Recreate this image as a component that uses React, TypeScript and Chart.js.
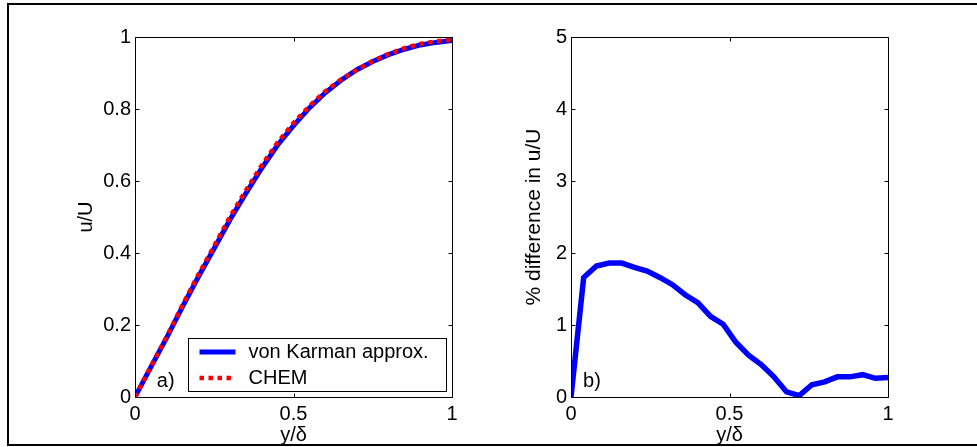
import { useEffect, useRef } from 'react';
import { Chart, registerables } from 'chart.js';

Chart.register(...registerables);

// ---- a) velocity profiles u/U against y/delta ----
const etaProfile = [0, 0.05, 0.1, 0.15, 0.2, 0.25, 0.3, 0.35, 0.4, 0.45, 0.5, 0.55, 0.6, 0.65, 0.7, 0.75, 0.8, 0.85, 0.9, 0.95, 1];
const vonKarman = [0, 0.083, 0.165, 0.251, 0.334, 0.413, 0.493, 0.566, 0.636, 0.7, 0.754, 0.803, 0.845, 0.88, 0.909, 0.932, 0.951, 0.966, 0.978, 0.985, 0.99];
const chem = [0, 0.0844, 0.168, 0.2556, 0.34, 0.42, 0.501, 0.574, 0.644, 0.707, 0.761, 0.808, 0.849, 0.882, 0.909, 0.933, 0.953, 0.969, 0.981, 0.988, 0.993];

// ---- b) percentage difference between the two profiles ----
const etaDiff = [0, 0.04, 0.08, 0.12, 0.16, 0.2, 0.24, 0.28, 0.32, 0.36, 0.4, 0.44, 0.48, 0.52, 0.56, 0.6, 0.64, 0.68, 0.72, 0.76, 0.8, 0.84, 0.88, 0.92, 0.96, 1];
const pctDiff = [0, 1.66, 1.82, 1.86, 1.86, 1.8, 1.75, 1.66, 1.56, 1.42, 1.31, 1.12, 1.01, 0.76, 0.58, 0.45, 0.28, 0.07, 0.02, 0.17, 0.21, 0.28, 0.28, 0.31, 0.26, 0.27];

const etaTicks = [0, 0.5, 1];
const uTicks = [0, 0.2, 0.4, 0.6, 0.8, 1];
const diffTicks = [0, 1, 2, 3, 4, 5];

const xTitle = 'y/\u03b4';
const legendLabels = ['von Karman approx.', 'CHEM'];

const FONT = 'Arial, "Liberation Sans", sans-serif';
const FONT_SIZE = 20;
const BLUE = '#0000ff';
const RED = '#ff0000';

const toPoints = (xs: number[], ys: number[]) => xs.map((x, i) => ({ x, y: ys[i] }));

// Box around the axes with short inward ticks on all four sides
const boxPlugin = {
  id: 'axesBox',
  afterDraw(chart: any) {
    const { ctx, chartArea: a, scales } = chart;
    const L = 4;
    ctx.save();
    ctx.strokeStyle = '#000';
    ctx.lineWidth = 1;
    const left = Math.round(a.left) + 0.5;
    const right = Math.round(a.right) + 0.5;
    const top = Math.round(a.top) + 0.5;
    const bottom = Math.round(a.bottom) + 0.5;
    ctx.beginPath();
    ctx.rect(left, top, right - left, bottom - top);
    for (const t of scales.x.ticks) {
      const px = Math.round(scales.x.getPixelForValue(t.value)) + 0.5;
      ctx.moveTo(px, bottom);
      ctx.lineTo(px, bottom - L);
      ctx.moveTo(px, top);
      ctx.lineTo(px, top + L);
    }
    for (const t of scales.y.ticks) {
      const py = Math.round(scales.y.getPixelForValue(t.value)) + 0.5;
      ctx.moveTo(left, py);
      ctx.lineTo(left + L, py);
      ctx.moveTo(right, py);
      ctx.lineTo(right - L, py);
    }
    ctx.stroke();
    ctx.restore();
  },
};

// Panel tag such as "a)" placed in data coordinates
const makeTagPlugin = (text: string, x: number, y: number) => ({
  id: 'panelTag',
  afterDraw(chart: any) {
    const { ctx, scales } = chart;
    ctx.save();
    ctx.fillStyle = '#000';
    ctx.font = `${FONT_SIZE}px ${FONT}`;
    ctx.textAlign = 'left';
    ctx.textBaseline = 'alphabetic';
    ctx.fillText(text, scales.x.getPixelForValue(x), scales.y.getPixelForValue(y));
    ctx.restore();
  },
});

// Legend box in the lower right corner of panel a)
const legendPlugin = {
  id: 'insideLegend',
  afterDraw(chart: any) {
    const { ctx, chartArea: a } = chart;
    const boxLeft = Math.round(a.left) + 53.5;
    const boxRight = Math.round(a.right) - 5.5;
    const boxTop = Math.round(a.bottom) - 58.5;
    const boxBottom = Math.round(a.bottom) - 5.5;
    ctx.save();
    ctx.fillStyle = '#fff';
    ctx.fillRect(boxLeft, boxTop, boxRight - boxLeft, boxBottom - boxTop);
    ctx.strokeStyle = '#000';
    ctx.lineWidth = 1;
    ctx.strokeRect(boxLeft, boxTop, boxRight - boxLeft, boxBottom - boxTop);
    const rows = [boxTop + 13.5, boxTop + 39.5];
    chart.data.datasets.forEach((ds: any, i: number) => {
      const y = rows[i];
      ctx.beginPath();
      ctx.strokeStyle = ds.borderColor;
      ctx.lineWidth = ds.borderWidth;
      ctx.setLineDash(ds.borderDash || []);
      ctx.moveTo(boxLeft + 11, y);
      ctx.lineTo(boxLeft + 47, y);
      ctx.stroke();
      ctx.setLineDash([]);
      ctx.fillStyle = '#000';
      ctx.font = `${FONT_SIZE}px ${FONT}`;
      ctx.textAlign = 'left';
      ctx.textBaseline = 'middle';
      ctx.fillText(ds.label, boxLeft + 60, y);
    });
    ctx.restore();
  },
};

const fixedTicks = (values: number[]) => (scale: any) => {
  scale.ticks = values.map((v) => ({ value: v }));
};

const axisOptions = (
  min: number,
  max: number,
  ticks: number[],
  title: string,
  isX: boolean,
  size: number,
  titlePad: number,
  titleSize: number = FONT_SIZE,
) => ({
  type: 'linear' as const,
  min,
  max,
  afterBuildTicks: fixedTicks(ticks),
  afterFit: (scale: any) => {
    if (isX) scale.height = size;
    else scale.width = size;
  },
  grid: { display: false, drawTicks: false },
  border: { display: false },
  ticks: {
    color: '#000',
    padding: isX ? 5 : 4,
    maxRotation: 0,
    autoSkip: false,
    font: { family: FONT, size: FONT_SIZE },
    callback: (v: any) => String(v),
  },
  title: {
    display: true,
    text: title,
    color: '#000',
    font: { family: FONT, size: titleSize },
    padding: isX ? { top: 0, bottom: titlePad } : { top: titlePad, bottom: 0 },
  },
});

function ProfilePanel() {
  const ref = useRef<HTMLCanvasElement>(null);
  useEffect(() => {
    const chart = new Chart(ref.current!, {
      type: 'line',
      data: {
        datasets: [
          {
            label: legendLabels[0],
            data: toPoints(etaProfile, vonKarman),
            borderColor: BLUE,
            borderWidth: 5,
            pointRadius: 0,
            tension: 0,
            order: 1,
          },
          {
            label: legendLabels[1],
            data: toPoints(etaProfile, chem),
            borderColor: RED,
            borderWidth: 4.5,
            borderDash: [4.5, 4.5],
            pointRadius: 0,
            tension: 0,
            order: 0,
          },
        ],
      },
      options: {
        responsive: false,
        animation: false,
        devicePixelRatio: 1,
        layout: { padding: { left: 0, right: 38, top: 37, bottom: 0 } },
        plugins: { legend: { display: false }, tooltip: { enabled: false } },
        scales: {
          x: axisOptions(0, 1, etaTicks, xTitle, true, 50, 0),
          y: axisOptions(0, 1, uTicks, 'u/U', false, 135, 74),
        },
      },
      plugins: [boxPlugin, legendPlugin, makeTagPlugin('a)', 0.069, 0.028)],
    });
    return () => chart.destroy();
  }, []);
  return <canvas ref={ref} width={490} height={447} style={{ position: 'absolute', left: 0, top: 0 }} />;
}

function DifferencePanel() {
  const ref = useRef<HTMLCanvasElement>(null);
  useEffect(() => {
    const chart = new Chart(ref.current!, {
      type: 'line',
      data: {
        datasets: [
          {
            label: '% difference',
            data: toPoints(etaDiff, pctDiff),
            borderColor: BLUE,
            borderWidth: 5.5,
            pointRadius: 0,
            tension: 0,
          },
        ],
      },
      options: {
        responsive: false,
        animation: false,
        devicePixelRatio: 1,
        layout: { padding: { left: 0, right: 89, top: 37, bottom: 0 } },
        plugins: { legend: { display: false }, tooltip: { enabled: false } },
        scales: {
          x: axisOptions(0, 1, etaTicks, xTitle, true, 50, 0),
          y: axisOptions(0, 5, diffTicks, '% difference in u/U', false, 81, 32, 21),
        },
      },
      plugins: [boxPlugin, makeTagPlugin('b)', 0.038, 0.139)],
    });
    return () => chart.destroy();
  }, []);
  return <canvas ref={ref} width={487} height={447} style={{ position: 'absolute', left: 490, top: 0 }} />;
}

export default function App() {
  return (
    <div style={{ position: 'fixed', left: 0, top: 0, width: 977, height: 447, background: '#fff', overflow: 'hidden' }}>
      <ProfilePanel />
      <DifferencePanel />
      <div
        style={{
          position: 'absolute',
          left: 7,
          top: 3,
          width: 990,
          height: 443,
          boxSizing: 'border-box',
          border: '2px solid #000',
          pointerEvents: 'none',
        }}
      />
    </div>
  );
}
